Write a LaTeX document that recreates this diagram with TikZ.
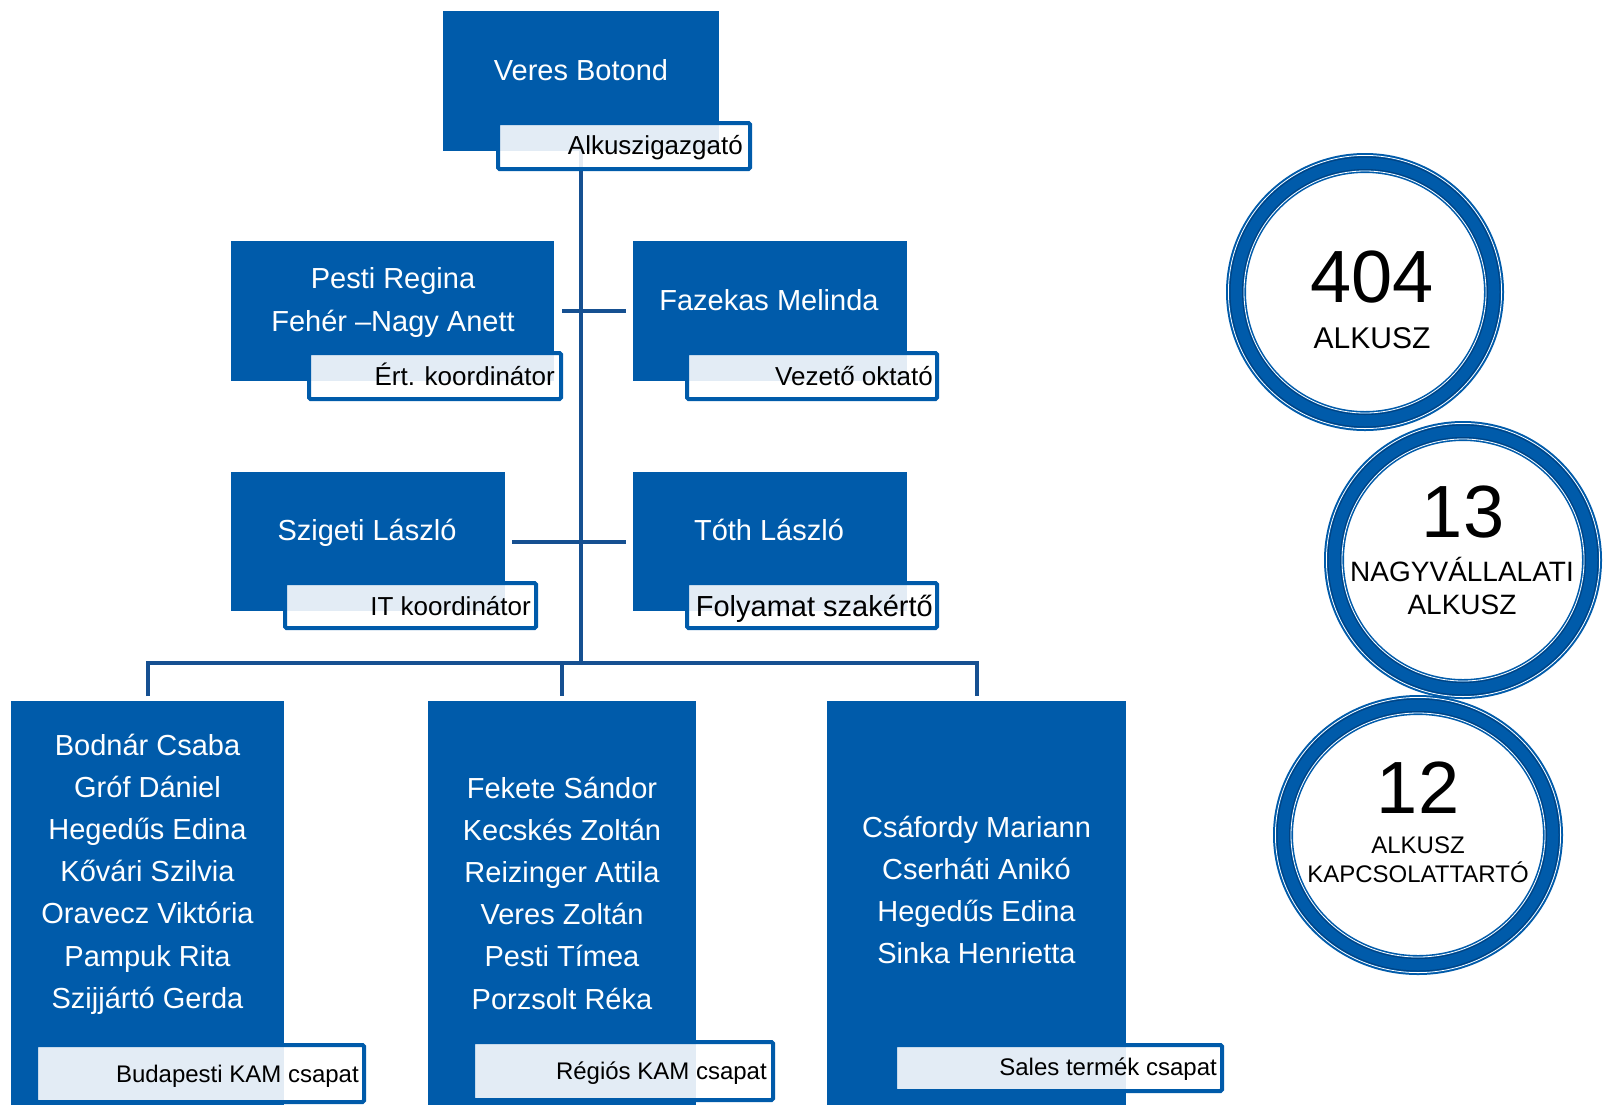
\documentclass[tikz,border=0pt]{standalone}
\usepackage{fontspec}
\setmainfont{Liberation Sans}
\usetikzlibrary{shapes.geometric}
\definecolor{boxblue}{RGB}{0,91,170}
\definecolor{connblue}{RGB}{22,80,145}
\definecolor{ringdark}{RGB}{0,66,130}
\begin{document}
\begin{tikzpicture}[x=1pt,y=-1pt,
  bluebox/.style={fill=boxblue, draw=none, inner sep=0pt, outer sep=0pt},
  lblbox/.style={draw=boxblue, line width=4pt, fill=white, fill opacity=0.89, draw opacity=1, inner sep=0pt, rounded corners=1.5pt},
  nametxt/.style={text=white, font=\fontsize{29}{34}\selectfont, inner sep=0pt, anchor=base},
  roletxt/.style={text=black, font=\fontsize{26}{30}\selectfont, inner sep=0pt, anchor=base east},
  teamtxt/.style={text=black, font=\fontsize{24}{28}\selectfont, inner sep=0pt, anchor=base east},
  conn/.style={draw=connblue, line width=4pt},
  ringc/.style={circle, draw=boxblue, line width=20pt, fill=white, inner sep=0pt},
  ringe/.style={ellipse, draw=boxblue, line width=20pt, fill=white, inner sep=0pt},
  bignum/.style={text=black, font=\fontsize{74}{80}\selectfont, inner sep=0pt, anchor=base},
  circtxt/.style={text=black, inner sep=0pt, anchor=base}]
\useasboundingbox (0,0) rectangle (1604,1104);
\fill[white] (0,0) rectangle (1604,1104);

% blue boxes
\node[bluebox, minimum width=276pt, minimum height=140pt] (A) at (581,81) {};
\node[bluebox, minimum width=323pt, minimum height=140pt] (P) at (392.5,311) {};
\node[bluebox, minimum width=274pt, minimum height=140pt] (F) at (770,311) {};
\node[bluebox, minimum width=274pt, minimum height=139pt] (S) at (368,541.5) {};
\node[bluebox, minimum width=274pt, minimum height=139pt] (T) at (770,541.5) {};
\node[bluebox, minimum width=273pt, minimum height=409pt] (B1) at (147.5,905.5) {};
\node[bluebox, minimum width=268pt, minimum height=409pt] (B2) at (562,905.5) {};
\node[bluebox, minimum width=299pt, minimum height=409pt] (B3) at (976.5,905.5) {};

% connectors
\coordinate (bus) at (581,663);
\draw[conn] (A.south) -- (bus);
\draw[conn] ([yshift=5pt]B1.north) -- (B1.north |- bus) -- (B3.north |- bus) -- ([yshift=5pt]B3.north);
\draw[conn] (B2.north |- bus) -- ([yshift=5pt]B2.north);
\draw[conn] ([xshift=8pt]P.east) -- ([xshift=-7pt]F.west);
\draw[conn] ([xshift=7pt]S.east) -- ([xshift=-7pt]T.west);

% role labels
\node[lblbox, minimum width=252pt, minimum height=46pt] (lA) at (624,146) {};
\node[lblbox, minimum width=252pt, minimum height=46pt] (lP) at (435,376) {};
\node[lblbox, minimum width=250pt, minimum height=46pt] (lF) at (812,376) {};
\node[lblbox, minimum width=251pt, minimum height=45pt] (lS) at (410.5,605.5) {};
\node[lblbox, minimum width=250pt, minimum height=45pt] (lT) at (812,605.5) {};
\node[lblbox, minimum width=328pt, minimum height=57pt] (lB1) at (200,1073.5) {};
\node[lblbox, minimum width=300pt, minimum height=58pt] (lB2) at (623,1071) {};
\node[lblbox, minimum width=327pt, minimum height=46pt] (lB3) at (1058.5,1068) {};

% names
\node[nametxt] (tA) at (581,80) {Veres Botond};
\node[nametxt] (tP1) at (393,288) {Pesti Regina};
\node[nametxt] (tP2) at (393,331) {Fehér –Nagy Anett};
\node[nametxt] (tF) at (769,310) {Fazekas Melinda};
\node[nametxt] (tS) at (367,540) {Szigeti László};
\node[nametxt] (tT) at (769,540) {Tóth László};
\foreach \t [count=\i] in {Bodnár Csaba, Gróf Dániel, Hegedűs Edina, Kővári Szilvia, Oravecz Viktória, Pampuk Rita, Szijjártó Gerda}
  \node[nametxt] (bp\i) at (147.5,{755+42.2*(\i-1)}) {\t};
\foreach \t [count=\i] in {Fekete Sándor, Kecskés Zoltán, Reizinger Attila, Veres Zoltán, Pesti Tímea, Porzsolt Réka}
  \node[nametxt] (rg\i) at (562,{798+42.2*(\i-1)}) {\t};
\foreach \t [count=\i] in {Csáfordy Mariann, Cserháti Anikó, Hegedűs Edina, Sinka Henrietta}
  \node[nametxt] (st\i) at (976.5,{837+42.2*(\i-1)}) {\t};

% role texts
\node[roletxt] (rA) at (743,154) {Alkuszigazgató};
\node[roletxt] (rP) at (555,385) {Ért. koordinátor};
\node[roletxt] (rF) at (933,385) {Vezető oktató};
\node[roletxt] (rS) at (531,615) {IT koordinátor};
\node[roletxt, font=\fontsize{29}{34}\selectfont] (rT) at (933,616) {Folyamat szakértő};
\node[teamtxt] (rB1) at (359,1082) {Budapesti KAM csapat};
\node[teamtxt] (rB2) at (767,1079) {Régiós KAM csapat};
\node[teamtxt] (rB3) at (1217,1075) {Sales termék csapat};

% circles
\node[ringc, minimum size=258pt] (c1) at (1365,292) {};
\node[ringc, minimum size=258pt] (c2) at (1463,560) {};
\node[ringe, minimum width=270pt, minimum height=260pt] (c3) at (1418,835) {};
\foreach \c in {c1,c2} {
  \draw[white, line width=0.8pt] (\c.center) circle[radius=136.6];
  \draw[ringdark, line width=1pt] (\c.center) circle[radius=135];
  \draw[ringdark, line width=1pt] (\c.center) circle[radius=122.5];
  \draw[white, line width=0.8pt] (\c.center) circle[radius=121];
}
\draw[white, line width=0.8pt] (c3.center) circle[x radius=142.6, y radius=137.6];
\draw[ringdark, line width=1pt] (c3.center) circle[x radius=141, y radius=136];
\draw[ringdark, line width=1pt] (c3.center) circle[x radius=128.5, y radius=123.5];
\draw[white, line width=0.8pt] (c3.center) circle[x radius=127, y radius=122];

\node[bignum] (n1) at (1372,302) {404};
\node[circtxt, font=\fontsize{30}{34}\selectfont] (k1) at (1372,348) {ALKUSZ};
\node[bignum] (n2) at (1463,537) {13};
\node[circtxt, font=\fontsize{28}{32}\selectfont] (k2a) at (1462,581) {NAGYVÁLLALATI};
\node[circtxt, font=\fontsize{28}{32}\selectfont] (k2b) at (1462,614) {ALKUSZ};
\node[bignum] (n3) at (1418,813) {12};
\node[circtxt, font=\fontsize{24}{28}\selectfont] (k3a) at (1418,853) {ALKUSZ};
\node[circtxt, font=\fontsize{24}{28}\selectfont] (k3b) at (1418,882) {KAPCSOLATTARTÓ};
\end{tikzpicture}
\end{document}
